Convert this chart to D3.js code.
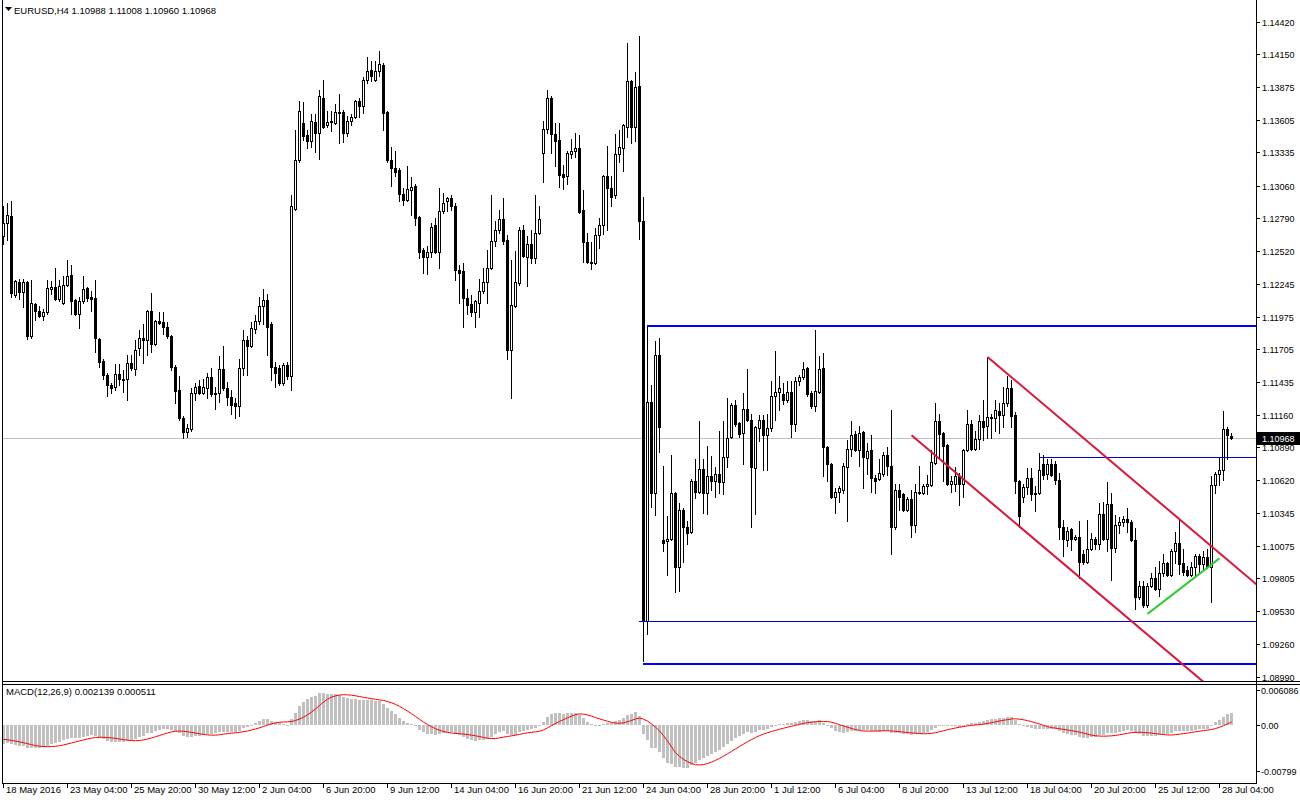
<!DOCTYPE html>
<html><head><meta charset="utf-8">
<script src="https://cdn.jsdelivr.net/npm/d3@7"></script>
<style>
body{margin:0;background:#fff}
svg{display:block}
text{font-family:"Liberation Sans",Arial,sans-serif;font-size:9.5px;fill:#000}
text.ax{font-size:9px}
</style>
</head><body>
<svg id="c" width="1300" height="800"></svg>
<script>
// ---------- DATA (EURUSD H4) ----------
const opens = [
1.1264,1.1275,1.1281,1.1215,1.1226,1.1218,1.1226,1.1181,1.1208,1.1202,
1.1198,1.1201,1.1220,1.1222,1.1212,1.1209,1.1224,1.1232,1.1211,1.1200,
1.1210,1.1221,1.1214,1.1213,1.1179,1.1161,1.1149,1.1141,1.1139,1.1150,
1.1146,1.1146,1.1159,1.1154,1.1171,1.1180,1.1178,1.1202,1.1175,1.1194,
1.1193,1.1189,1.1181,1.1156,1.1137,1.1113,1.1102,1.1104,1.1134,1.1140,
1.1134,1.1138,1.1147,1.1134,1.1134,1.1154,1.1138,1.1131,1.1126,1.1123,
1.1155,1.1178,1.1173,1.1187,1.1194,1.1206,1.1211,1.1191,1.1156,1.1155,
1.1142,1.1157,1.1148,1.1287,1.1327,1.1358,1.1348,1.1343,1.1359,1.1350,
1.1379,1.1356,1.1359,1.1358,1.1367,1.1367,1.1350,1.1360,1.1363,1.1376,
1.1372,1.1394,1.1402,1.1394,1.1401,1.1406,1.1367,1.1327,1.1321,1.1319,
1.1299,1.1294,1.1302,1.1306,1.1280,1.1253,1.1247,1.1251,1.1273,1.1251,
1.1285,1.1293,1.1296,1.1289,1.1236,1.1235,1.1213,1.1208,1.1201,1.1209,
1.1219,1.1226,1.1238,1.1260,1.1269,1.1278,1.1261,1.1170,1.1206,1.1225,
1.1269,1.1247,1.1258,1.1246,1.1267,1.1333,1.1353,1.1379,1.1349,1.1344,
1.1316,1.1314,1.1332,1.1335,1.1337,1.1286,1.1259,1.1243,1.1242,1.1265,
1.1273,1.1314,1.1304,1.1298,1.1332,1.1337,1.1355,1.1393,1.1355,1.1389,
1.1277,1.0945,1.1127,1.1051,1.1166,1.1012,1.1011,1.1013,1.1051,1.0990,
1.1037,1.1023,1.1019,1.1061,1.1052,1.1071,1.1051,1.1065,1.1061,1.1067,
1.1060,1.1081,1.1098,1.1124,1.1109,1.1101,1.1121,1.1112,1.1072,1.1105,
1.1112,1.1099,1.1105,1.1132,1.1135,1.1133,1.1128,1.1135,1.1108,1.1144,
1.1147,1.1155,1.1134,1.1123,1.1135,1.1155,1.1089,1.1075,1.1048,1.1052,
1.1054,1.1073,1.1088,1.1100,1.1087,1.1102,1.1080,1.1087,1.1064,1.1063,
1.1067,1.1083,1.1074,1.1023,1.1054,1.1050,1.1037,1.1046,1.1025,1.1052,
1.1051,1.1057,1.1058,1.1076,1.1111,1.1101,1.1091,1.1059,1.1059,1.1065,
1.1059,1.1087,1.1108,1.1088,1.1096,1.1111,1.1107,1.1114,1.1113,1.1119,
1.1116,1.1126,1.1138,1.1116,1.1061,1.1048,1.1056,1.1064,1.1051,1.1051,
1.1075,1.1067,1.1075,1.1075,1.1062,1.1023,1.1012,1.1021,1.1013,1.1015,
1.1001,1.0994,1.1005,1.1013,1.1009,1.1034,1.1013,1.1042,1.1006,1.1025,
1.1027,1.1030,1.1027,1.1012,1.0965,1.0974,1.0958,1.0974,1.0981,1.0972,
1.0985,1.0993,1.0983,1.1003,1.1010,1.0993,1.0987,1.0983,1.0990,1.0999,
1.0992,1.0998,1.0990,1.1058,1.1067,1.1070,1.1104,1.10988];
const highs = [
1.1289,1.1292,1.1293,1.1228,1.1229,1.1229,1.1227,1.1228,1.1209,1.1206,
1.1204,1.1228,1.1227,1.1238,1.1228,1.1231,1.1244,1.1240,1.1212,1.1214,
1.1231,1.1222,1.1219,1.1228,1.1180,1.1162,1.1151,1.1142,1.1158,1.1158,
1.1153,1.1166,1.1166,1.1178,1.1186,1.1191,1.1203,1.1217,1.1195,1.1201,
1.1201,1.1193,1.1182,1.1157,1.1148,1.1115,1.1108,1.1138,1.1142,1.1145,
1.1146,1.1151,1.1155,1.1139,1.1165,1.1173,1.1143,1.1137,1.1130,1.1162,
1.1186,1.1181,1.1193,1.1199,1.1214,1.1220,1.1216,1.1193,1.1160,1.1157,
1.1159,1.1160,1.1298,1.1352,1.1376,1.1375,1.1352,1.1365,1.1365,1.1385,
1.1394,1.1368,1.1368,1.1374,1.1382,1.1369,1.1364,1.1365,1.1377,1.1379,
1.1396,1.1413,1.1409,1.1409,1.1418,1.1408,1.1368,1.1338,1.1335,1.1321,
1.1304,1.1322,1.1313,1.1307,1.1281,1.1254,1.1256,1.1275,1.1279,1.1304,
1.1300,1.1297,1.1298,1.1292,1.1240,1.1242,1.1220,1.1215,1.1211,1.1229,
1.1238,1.1253,1.1298,1.1277,1.1286,1.1296,1.1265,1.1244,1.1252,1.1272,
1.1273,1.1264,1.1269,1.1298,1.1289,1.1360,1.1385,1.1380,1.1358,1.1358,
1.1323,1.1335,1.1345,1.1350,1.1348,1.1302,1.1267,1.1259,1.1271,1.1279,
1.1315,1.1339,1.1314,1.1349,1.1352,1.1357,1.1424,1.1394,1.1400,1.1430,
1.1297,1.1190,1.1141,1.1177,1.1180,1.1074,1.1032,1.1083,1.1052,1.1043,
1.1039,1.1028,1.1063,1.1079,1.1111,1.1079,1.1090,1.1082,1.1073,1.1103,
1.1111,1.1130,1.1126,1.1128,1.1110,1.1134,1.1154,1.1117,1.1107,1.1116,
1.1116,1.1117,1.1144,1.1169,1.1148,1.1142,1.1144,1.1144,1.1147,1.1149,
1.1160,1.1156,1.1136,1.1186,1.1165,1.1167,1.1090,1.1076,1.1055,1.1057,
1.1076,1.1095,1.1111,1.1103,1.1107,1.1103,1.1093,1.1099,1.1066,1.1079,
1.1085,1.1089,1.1120,1.1059,1.1059,1.1051,1.1048,1.1054,1.1059,1.1074,
1.1059,1.1066,1.1087,1.1126,1.1117,1.1102,1.1092,1.1065,1.1073,1.1068,
1.1088,1.1120,1.1112,1.1103,1.1116,1.1128,1.1164,1.1117,1.1128,1.1126,
1.1139,1.1148,1.1145,1.1118,1.1062,1.1059,1.1072,1.1072,1.1057,1.1084,
1.1083,1.1079,1.1079,1.1078,1.1068,1.1029,1.1023,1.1022,1.1016,1.1028,
1.1004,1.1029,1.1018,1.1015,1.1043,1.1044,1.1060,1.1051,1.1033,1.1031,
1.1032,1.1039,1.1029,1.1022,1.0978,1.0978,1.0977,1.0985,1.0990,1.0995,
1.1001,1.0994,1.1005,1.1019,1.1030,1.1005,1.0991,1.0994,1.1001,1.1001,
1.1003,1.1005,1.1065,1.1069,1.1081,1.1119,1.1106,1.11008];
const lows = [
1.1258,1.1261,1.1214,1.1214,1.1212,1.1205,1.1179,1.1180,1.1195,1.1197,
1.1195,1.1200,1.1216,1.1211,1.1210,1.1208,1.1223,1.1200,1.1199,1.1188,
1.1209,1.1210,1.1202,1.1168,1.1156,1.1146,1.1132,1.1134,1.1137,1.1141,
1.1135,1.1128,1.1153,1.1149,1.1166,1.1159,1.1166,1.1168,1.1174,1.1191,
1.1183,1.1180,1.1153,1.1126,1.1112,1.1097,1.1098,1.1103,1.1128,1.1133,
1.1133,1.1130,1.1132,1.1121,1.1127,1.1137,1.1124,1.1117,1.1113,1.1115,
1.1149,1.1149,1.1172,1.1184,1.1191,1.1191,1.1166,1.1145,1.1139,1.1141,
1.1141,1.1146,1.1137,1.1286,1.1326,1.1344,1.1337,1.1338,1.1334,1.1328,
1.1354,1.1355,1.1351,1.1357,1.1341,1.1342,1.1347,1.1356,1.1362,1.1363,
1.1366,1.1391,1.1393,1.1393,1.1397,1.1352,1.1326,1.1306,1.1314,1.1293,
1.1290,1.1293,1.1282,1.1273,1.1246,1.1234,1.1233,1.1247,1.1250,1.1238,
1.1283,1.1285,1.1286,1.1228,1.1209,1.1189,1.1200,1.1198,1.1189,1.1197,
1.1217,1.1209,1.1237,1.1256,1.1267,1.1258,1.1162,1.1130,1.1205,1.1224,
1.1247,1.1223,1.1242,1.1242,1.1266,1.1309,1.1350,1.1333,1.1322,1.1305,
1.1303,1.1307,1.1329,1.1330,1.1283,1.1243,1.1242,1.1237,1.1241,1.1254,
1.1266,1.1269,1.1289,1.1296,1.1326,1.1318,1.1346,1.1341,1.1343,1.1262,
1.0912,1.0934,1.1040,1.1033,1.1085,1.1003,1.0983,1.1012,1.0969,1.0970,
1.0994,1.1009,1.1018,1.1047,1.1051,1.1035,1.1034,1.1054,1.1048,1.1051,
1.1050,1.1073,1.1097,1.1107,1.1098,1.1075,1.1111,1.1023,1.1034,1.1094,
1.1070,1.1070,1.1103,1.1112,1.1120,1.1125,1.1127,1.1098,1.1103,1.1141,
1.1146,1.1132,1.1122,1.1119,1.1134,1.1065,1.1061,1.1047,1.1035,1.1044,
1.1051,1.1028,1.1082,1.1086,1.1074,1.1055,1.1067,1.1052,1.1051,1.1062,
1.1065,1.1066,1.1001,1.1021,1.1037,1.1036,1.1036,1.1015,1.1019,1.1050,
1.1050,1.1050,1.1057,1.1075,1.1081,1.1061,1.1058,1.1052,1.1053,1.1041,
1.1048,1.1086,1.1087,1.1087,1.1088,1.1095,1.1097,1.1097,1.1103,1.1101,
1.1106,1.1123,1.1106,1.1051,1.1023,1.1044,1.1050,1.1045,1.1036,1.1050,
1.1063,1.1063,1.1065,1.1059,1.1013,1.0999,1.1007,1.1004,1.1012,1.0981,
1.0992,1.0993,1.1004,1.1005,1.1005,1.1012,1.1003,1.0979,1.1002,1.1018,
1.1024,1.1019,1.1011,1.0955,1.0963,1.0957,1.0957,1.0973,1.0971,1.0966,
1.0982,1.0982,1.0982,1.0993,1.0984,1.0983,1.0982,1.0982,1.0982,1.0985,
1.0988,1.0989,1.0961,1.1051,1.1058,1.1062,1.1079,1.10960];
const closes = [
1.1275,1.1282,1.1217,1.1227,1.1218,1.1226,1.1181,1.1209,1.1202,1.1198,
1.1201,1.1221,1.1222,1.1212,1.1223,1.1224,1.1231,1.1210,1.1200,1.1210,
1.1220,1.1213,1.1212,1.1180,1.1160,1.1149,1.1141,1.1138,1.1150,1.1146,
1.1145,1.1159,1.1155,1.1170,1.1180,1.1178,1.1202,1.1175,1.1194,1.1192,
1.1189,1.1181,1.1156,1.1136,1.1113,1.1102,1.1105,1.1134,1.1139,1.1134,
1.1139,1.1147,1.1133,1.1133,1.1154,1.1138,1.1131,1.1124,1.1123,1.1155,
1.1178,1.1173,1.1188,1.1194,1.1206,1.1211,1.1189,1.1156,1.1151,1.1142,
1.1157,1.1148,1.1289,1.1327,1.1368,1.1347,1.1343,1.1360,1.1350,1.1380,
1.1355,1.1359,1.1360,1.1367,1.1366,1.1350,1.1360,1.1363,1.1376,1.1372,
1.1394,1.1401,1.1397,1.1401,1.1407,1.1366,1.1327,1.1321,1.1317,1.1299,
1.1294,1.1303,1.1305,1.1279,1.1251,1.1247,1.1251,1.1272,1.1251,1.1285,
1.1292,1.1296,1.1289,1.1236,1.1234,1.1213,1.1207,1.1201,1.1210,1.1219,
1.1226,1.1238,1.1260,1.1269,1.1278,1.1260,1.1170,1.1207,1.1226,1.1269,
1.1248,1.1258,1.1246,1.1267,1.1278,1.1353,1.1379,1.1349,1.1343,1.1315,
1.1313,1.1333,1.1335,1.1337,1.1284,1.1259,1.1243,1.1242,1.1265,1.1273,
1.1314,1.1304,1.1297,1.1332,1.1338,1.1356,1.1393,1.1355,1.1388,1.1277,
1.0946,1.1127,1.1051,1.1166,1.1106,1.1010,1.1013,1.1051,1.0990,1.1037,
1.1023,1.1018,1.1061,1.1052,1.1071,1.1051,1.1065,1.1061,1.1067,1.1060,
1.1081,1.1097,1.1124,1.1108,1.1100,1.1121,1.1112,1.1073,1.1106,1.1112,
1.1099,1.1105,1.1132,1.1135,1.1138,1.1128,1.1135,1.1108,1.1144,1.1147,
1.1154,1.1133,1.1123,1.1136,1.1154,1.1089,1.1075,1.1048,1.1052,1.1055,
1.1074,1.1088,1.1099,1.1087,1.1101,1.1081,1.1086,1.1064,1.1061,1.1068,
1.1083,1.1074,1.1023,1.1054,1.1048,1.1037,1.1046,1.1025,1.1052,1.1051,
1.1057,1.1059,1.1077,1.1111,1.1100,1.1090,1.1059,1.1061,1.1065,1.1059,
1.1087,1.1108,1.1088,1.1096,1.1111,1.1106,1.1114,1.1113,1.1120,1.1116,
1.1126,1.1138,1.1115,1.1061,1.1032,1.1056,1.1064,1.1050,1.1050,1.1070,
1.1066,1.1075,1.1066,1.1062,1.1023,1.1013,1.1020,1.1013,1.1015,1.0994,
1.0994,1.1005,1.1013,1.1009,1.1034,1.1013,1.1042,1.1006,1.1025,1.1027,
1.1030,1.1027,1.1012,1.0965,1.0974,1.0958,1.0974,1.0981,1.0972,1.0985,
1.0993,1.0983,1.1003,1.1010,1.0992,1.0986,1.0983,1.0990,1.0999,1.0992,
1.0998,1.0990,1.1058,1.1067,1.1070,1.1104,1.1099,1.10968];

const timeLabels = ["18 May 2016","23 May 04:00","25 May 20:00","30 May 12:00","2 Jun 04:00",
  "6 Jun 20:00","9 Jun 12:00","14 Jun 04:00","16 Jun 20:00","21 Jun 12:00","24 Jun 04:00",
  "28 Jun 20:00","1 Jul 12:00","6 Jul 04:00","8 Jul 20:00","13 Jul 12:00","18 Jul 04:00",
  "20 Jul 20:00","25 Jul 12:00","28 Jul 04:00"];
const timeLabelBars = [0,16,32,48,64,80,96,112,128,144,160,176,192,208,224,240,256,272,288,304];
const priceTicks = ["1.14420","1.14150","1.13875","1.13605","1.13335","1.13060","1.12790",
  "1.12520","1.12245","1.11975","1.11705","1.11435","1.11160","1.10890","1.10620","1.10345",
  "1.10075","1.09805","1.09530","1.09260","1.08990"];
const macdTicks = ["0.006086","0.00","-0.00799"];
const macdTitle = "MACD(12,26,9) 0.002139 0.000511";
const symbolTitle = "EURUSD,H4";
// MACD state before the first visible bar (estimated from the left edge of the sub-window)
const macdSeedEma12 = 1.1288, macdSeedEma26 = 1.1322;
const macdSeedMain = [-0.0024,-0.0024,-0.0024,-0.0024,-0.0024,-0.0024,-0.0024,-0.0024];
// drawn objects: [bar, price] anchors
const upperChannel = [[246,1.1164],[302,1.1007]];
const lowerChannel = [[227,1.1099],[287,1.0931]];
const greenLine = [[286,1.0951],[304,1.0997]];
const thickLevels = [[161,1.11897],[160,1.09095]];
const thinLevels = [[259,1.10811],[159,1.09451]];

// ---------- CHART ----------
const svg = d3.select("#c");
svg.append("rect").attr("width",1300).attr("height",800).attr("fill","#fff");
const N = Math.min(opens.length, highs.length, lows.length, closes.length);
const PR = 1256;                       // price-scale line
const MAIN_B = 681, SUB_T = 684, SUB_B = 783;
const x = d3.scaleLinear().domain([0, N-1]).range([3, 3 + 4*(N-1)]);
const y = d3.scaleLinear().domain([1.08990, 1.14420]).range([676.6, 21.6]);
const ym = d3.scaleLinear().domain([-0.00799, 0.006086]).range([771, 690]);
const defs = svg.append("defs");
defs.append("clipPath").attr("id","cm").append("rect").attr("x",3).attr("y",1).attr("width",PR-3).attr("height",MAIN_B-1);
defs.append("clipPath").attr("id","cs").append("rect").attr("x",3).attr("y",SUB_T+1).attr("width",PR-3).attr("height",SUB_B-SUB_T-1);

const main = svg.append("g").attr("clip-path","url(#cm)").attr("shape-rendering","crispEdges");
// current price line
const last = closes[N-1];
main.append("line").attr("x1",0).attr("x2",PR).attr("y1",Math.round(y(last))+0.5).attr("y2",Math.round(y(last))+0.5)
  .attr("stroke","#c0c0c0").attr("stroke-width",1);

// candles
const cg = main.append("g");
for (let i = 0; i < N; i++) {
  const cx = Math.round(x(i));
  const yo = Math.round(y(opens[i])), yc = Math.round(y(closes[i]));
  const yh = Math.round(y(highs[i])), yl = Math.round(y(lows[i]));
  const top = Math.min(yo, yc), bot = Math.max(yo, yc);
  cg.append("rect").attr("x",cx).attr("y",yh).attr("width",1).attr("height",Math.max(1,yl-yh+1)).attr("fill","#000");
  cg.append("rect").attr("x",cx-1).attr("y",top).attr("width",3).attr("height",bot-top+1).attr("fill","#000");
  if (closes[i] > opens[i] && bot - top > 1) {
    cg.append("rect").attr("x",cx).attr("y",top+1).attr("width",1).attr("height",bot-top-1).attr("fill","#fff");
  }
}

// horizontal levels
thickLevels.forEach(([b,p]) => {
  const yy = Math.round(y(p));
  main.append("rect").attr("x",Math.round(x(b))).attr("y",yy-1).attr("width",PR-Math.round(x(b))).attr("height",2).attr("fill","#0000ff");
});
thinLevels.forEach(([b,p]) => {
  const yy = Math.round(y(p));
  main.append("rect").attr("x",Math.round(x(b))).attr("y",yy).attr("width",PR-Math.round(x(b))).attr("height",1).attr("fill","#0000cd");
});
// trend lines
function ray(pts, color, extend) {
  const [[b1,p1],[b2,p2]] = pts;
  const x1 = x(b1)+0.5, y1 = y(p1), x2 = x(b2)+0.5, y2 = y(p2);
  let ex = x2, ey = y2;
  if (extend) { const s = (y2-y1)/(x2-x1); ex = 1400; ey = y1 + s*(ex-x1); }
  main.append("line").attr("x1",x1).attr("y1",y1).attr("x2",ex).attr("y2",ey)
    .attr("stroke",color).attr("stroke-width",2).attr("shape-rendering","auto");
}
ray(upperChannel, "#dc143c", true);
ray(lowerChannel, "#dc143c", true);
ray(greenLine, "#32cd32", false);

// ---------- MACD ----------
const k12 = 2/13, k26 = 2/27;
let e12 = macdSeedEma12, e26 = macdSeedEma26;
const macdMain = closes.slice(0,N).map(c => { e12 += k12*(c-e12); e26 += k26*(c-e26); return e12 - e26; });
const allMain = macdSeedMain.concat(macdMain);
const macdSignal = macdMain.map((_, i) => d3.mean(allMain.slice(i, i + 9)));
const sub = svg.append("g").attr("clip-path","url(#cs)");
const y0 = Math.round(ym(0));
sub.append("g").attr("shape-rendering","crispEdges").selectAll("rect").data(macdMain).join("rect")
  .attr("x",(d,i)=>Math.round(x(i))-1).attr("width",3)
  .attr("y",d=>Math.min(y0, Math.round(ym(d)))).attr("height",d=>Math.max(1,Math.abs(Math.round(ym(d))-y0)))
  .attr("fill","#c0c0c0");
sub.append("path").datum(macdSignal)
  .attr("d", d3.line().x((d,i)=>x(i)+0.5).y(d=>ym(d)))
  .attr("fill","none").attr("stroke","#ff0000").attr("stroke-width",1);

// ---------- FRAME & AXES ----------
const fr = svg.append("g").attr("shape-rendering","crispEdges").attr("stroke","#000").attr("stroke-width",1);
fr.append("line").attr("x1",2.5).attr("x2",2.5).attr("y1",0).attr("y2",SUB_B);
fr.append("line").attr("x1",PR+0.5).attr("x2",PR+0.5).attr("y1",0).attr("y2",SUB_B);
fr.append("line").attr("x1",2).attr("x2",1300).attr("y1",MAIN_B+0.5).attr("y2",MAIN_B+0.5);
fr.append("line").attr("x1",2).attr("x2",1300).attr("y1",SUB_T+0.5).attr("y2",SUB_T+0.5);
fr.append("line").attr("x1",2).attr("x2",PR+1).attr("y1",SUB_B+0.5).attr("y2",SUB_B+0.5);

// price axis
priceTicks.forEach(s => {
  const py = Math.round(y(+s));
  fr.append("line").attr("x1",PR).attr("x2",PR+4).attr("y1",py+0.5).attr("y2",py+0.5);
  svg.append("text").attr("class","ax").attr("x",PR+6).attr("y",py+4).text(s);
});
// current price box
const lpy = Math.round(y(last));
svg.append("rect").attr("x",PR+1).attr("y",lpy-6).attr("width",1300-PR-1).attr("height",13).attr("fill","#000");
svg.append("text").attr("class","ax").attr("x",PR+6).attr("y",lpy+4).style("fill","#fff").text(last.toFixed(5));

// MACD axis
macdTicks.forEach(s => {
  const py = Math.round(ym(+s));
  fr.append("line").attr("x1",PR).attr("x2",PR+4).attr("y1",py+0.5).attr("y2",py+0.5);
  svg.append("text").attr("class","ax").attr("x",PR+5).attr("y",py+4).text(s);
});

// time axis
timeLabels.forEach((s, k) => {
  const tx = Math.round(x(timeLabelBars[k]));
  fr.append("line").attr("x1",tx+0.5).attr("x2",tx+0.5).attr("y1",SUB_B).attr("y2",SUB_B+5);
  svg.append("text").attr("x",tx+3).attr("y",SUB_B+10).text(s);
});

// titles
svg.append("path").attr("d","M5,7L12,7L8.5,11Z").attr("fill","#000");
svg.append("text").attr("x",14).attr("y",14)
  .text(symbolTitle + "  " + [opens[N-1], highs[N-1], lows[N-1], closes[N-1]].map(v=>v.toFixed(5)).join(" "));
svg.append("text").attr("x",6).attr("y",695).text(macdTitle);
</script>
</body></html>
